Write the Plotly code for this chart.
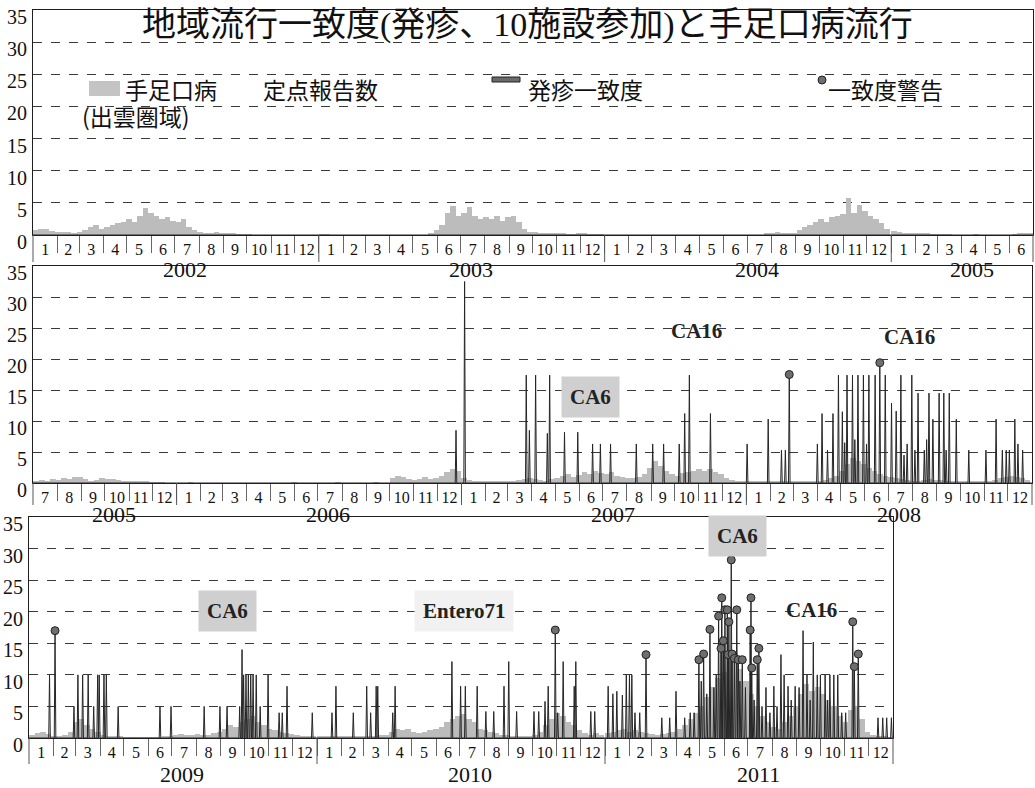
import plotly.graph_objects as go
import pandas as pd

W, H = 1035, 788

# ---------------- data ----------------
# weekly HFMD sentinel reports (Izumo area), 52 weeks per year
hfmd_2002 = [0.8,1.0,0.9,0.7,0.5, 0.4,0.5,0.3,0.4, 0.8,1.2,1.5,1.0, 1.2,1.5,1.8,2.0, 2.5,2.0,3.0,4.2,3.5,
             3.0,2.5,2.8,2.2, 2.0,2.5,1.2,0.8,0.4, 0.3,0.2,0.4,0.3, 0.2,0.3,0.1,0.1, 0.1,0,0,0,0, 0,0,0,0, 0,0,0,0]
hfmd_2003 = [0.1,0.1,0,0,0, 0,0,0,0, 0,0,0,0, 0,0,0,0, 0,0,0,0.3,0.8, 1.5,3.5,4.5,3.0, 3.5,4.3,3.0,2.5,2.8,
             2.5,3.0,2.2,2.8, 3.0,2.0,1.0,0.5, 0.4,0.3,0.2,0.3,0.2, 0.2,0.1,0.1,0.2, 0.2,0.1,0.1,0.1]
hfmd_2004 = [0,0,0,0,0, 0,0,0,0, 0,0,0,0, 0,0,0,0, 0,0,0,0,0, 0,0,0,0, 0,0,0,0.2,0.3,
             0.4,0.2,0.3,0.3, 0.8,1.2,1.5,2.0, 2.5,2.0,2.8,3.0,3.2, 5.8,3.5,4.7,3.8, 3.0,2.5,1.8,1.0]
hfmd_2005 = [0.6,0.4,0.3,0.3,0.2, 0.3,0.2,0.1,0.1, 0.1,0.1,0,0, 0,0,0.1,0, 0,0,0,0,0, 0.1,0.2,0.3,0.2,
             0.3,0.5,0.4,0.6,0.5, 0.8,0.6,0.9,1.0, 0.6,0.4,0.5,0.8, 0.7,0.6,0.5,0.4,0.3, 0.3,0.2,0.2,0.1, 0.1,0.1,0,0]
hfmd_2006 = [0,0,0.1,0,0, 0,0,0,0, 0,0,0,0, 0,0,0,0, 0,0,0,0,0.1, 0,0,0,0, 0,0,0,0.1,0,
             0,0,0,0, 0,0.1,0,0, 0.8,1.2,0.9,0.6,0.5, 0.7,1.0,0.6,0.8, 1.2,1.8,2.2,2.0]
hfmd_2007 = [0.8,0.5,0.3,0.3,0.2, 0.2,0.3,0.2,0.3, 0.4,0.5,0.6,0.8, 0.6,0.5,0.4,0.6, 0.8,1.2,1.5,1.0,1.3,
             1.8,1.5,2.0,1.6, 1.5,1.8,1.2,1.0,0.8, 0.8,1.0,1.5,2.5, 3.6,2.8,2.0,1.5, 1.2,1.6,1.8,2.0,2.2,
             2.0,2.3,1.8,1.5, 0.8,0.5,0.4,0.3]
hfmd_2008 = [0.3,0.2,0.3,0.4,0.3, 0.2,0.3,0.2,0.3, 0.3,0.2,0.3,0.3, 0.3,0.5,0.8,1.2, 2.0,3.0,4.0,3.5,3.0,
             2.5,2.0,1.5,1.2, 1.0,0.8,0.6,0.5,0.4, 0.4,0.5,0.6,0.5, 0.5,0.4,0.3,0.3, 0.3,0.2,0.2,0.2,0.2,
             0.3,0.5,0.8,1.0, 1.2,1.0,0.8,0.5]
hfmd_2009 = [0.5,0.8,1.0,0.6,0.3, 0.3,0.5,1.0,2.5, 3.0,2.0,1.5,1.0, 0.5,0.3,0.2,0.2, 0.1,0.1,0.1,0.1,0.1,
             0.1,0.1,0.2,0.3, 0.5,0.6,0.4,0.5,0.6, 0.4,0.5,0.8,1.0, 1.5,2.0,1.8,2.5, 3.0,3.5,2.5,2.0,1.5,
             1.2,1.0,0.8,0.6, 0.4,0.3,0.2,0.2]
hfmd_2010 = [0.2,0.2,0.3,0.2,0.2, 0.2,0.3,0.2,0.2, 0.3,0.3,0.4,0.5, 1.0,1.4,1.2,1.5, 1.0,0.8,0.9,1.2,1.5,
             1.8,2.5,3.0,3.5, 3.8,3.0,2.5,1.5,1.2, 1.0,0.8,0.5,0.5, 0.3,0.3,0.2,0.3, 0.5,1.0,2.0,3.0,4.0,
             3.5,2.5,2.0,1.2, 0.8,0.5,0.8,0.5]
hfmd_2011 = [0.8,1.0,1.2,1.5,1.0, 1.2,1.0,0.8,0.6, 0.5,0.6,0.8,1.0, 1.5,2.0,3.0,4.0, 5.0,6.5,8.0,9.5,10.5,
             12.5,13.5,11.0,9.0, 7.0,5.0,3.5,2.5,1.8, 1.5,2.5,3.5,5.0, 7.0,8.5,7.5,8.0, 7.0,6.0,5.0,3.5,2.5,
             4.5,5.0,3.0,1.0, 0.5,0.3,0.2,0.1]
hfmd_years = [2002, 2003, 2004, 2005, 2006, 2007, 2008, 2009, 2010, 2011]
hfmd_series = [hfmd_2002, hfmd_2003, hfmd_2004, hfmd_2005, hfmd_2006,
               hfmd_2007, hfmd_2008, hfmd_2009, hfmd_2010, hfmd_2011]

# rash concordance (daily, non-zero days only)
spike_dates = [
    "2006-12-25","2007-01-05","2007-03-25","2007-03-29","2007-04-06","2007-04-21","2007-04-24",
    "2007-05-13","2007-05-30","2007-06-18","2007-06-28","2007-07-11","2007-08-13","2007-09-03",
    "2007-09-17","2007-10-07","2007-10-14","2007-10-20","2007-11-16","2008-01-02","2008-01-29",
    "2008-02-15","2008-02-20","2008-04-01","2008-04-07","2008-04-14","2008-04-21","2008-04-28",
    "2008-05-03","2008-05-06","2008-05-09","2008-05-16","2008-05-19","2008-05-23","2008-05-30",
    "2008-06-03","2008-06-06","2008-06-14","2008-06-27","2008-07-05","2008-07-11","2008-07-17",
    "2008-07-21","2008-07-25","2008-07-31","2008-08-04","2008-08-08","2008-08-16","2008-08-19",
    "2008-08-22","2008-08-27","2008-09-04","2008-09-10","2008-09-13","2008-09-17","2008-09-26",
    "2008-10-12","2008-11-03","2008-11-16","2008-11-24","2008-11-29","2008-12-03","2008-12-10",
    "2008-12-14","2008-12-20",
    "2009-01-27","2009-02-27","2009-03-04","2009-03-10","2009-03-17","2009-03-24","2009-03-29",
    "2009-03-31","2009-04-06","2009-04-09","2009-04-24","2009-06-16","2009-06-30","2009-08-11",
    "2009-08-31","2009-09-09","2009-09-25","2009-09-28","2009-09-30","2009-10-03","2009-10-06",
    "2009-10-09","2009-10-12","2009-10-16","2009-10-21","2009-10-31","2009-11-14","2009-11-18",
    "2009-11-24","2009-12-26","2010-01-20","2010-01-25","2010-02-16","2010-03-05","2010-03-10",
    "2010-03-17","2010-03-19","2010-04-07","2010-04-10","2010-06-21","2010-07-02","2010-07-08",
    "2010-07-23","2010-08-03","2010-08-13","2010-08-26","2010-09-01","2010-09-11","2010-10-03",
    "2010-10-09","2010-10-17","2010-10-21","2010-11-02","2010-11-09","2010-11-23","2010-11-25",
    "2010-12-14","2010-12-19","2011-01-05","2011-01-11","2011-01-16","2011-01-23","2011-01-28",
    "2011-02-01","2011-02-04","2011-02-08","2011-02-14","2011-03-14","2011-03-24","2011-04-01",
    "2011-04-12","2011-04-19","2011-04-24","2011-05-03","2011-05-10","2011-05-19","2011-05-22",
    "2011-06-21","2011-06-28","2011-07-09","2011-07-19","2011-07-24","2011-07-29","2011-08-03",
    "2011-08-07","2011-08-12","2011-08-16","2011-08-21","2011-08-25","2011-08-30","2011-09-04",
    "2011-09-09","2011-09-14","2011-09-18","2011-09-22","2011-09-27","2011-10-01","2011-10-07",
    "2011-10-10","2011-10-13","2011-10-18","2011-10-23","2011-10-28","2011-11-02","2011-12-13",
    "2011-12-19","2011-12-24","2011-12-30"]
spike_values = [
    8.5,32.5,17.4,8.5,17.4,8.0,17.4,
    8.2,8.2,6.3,6.3,6.3,6.3,6.3,
    6.3,6.3,11.2,17.4,11.2,6.3,10.3,
    5.3,5.3,6.3,11.2,5.3,11.2,17.4,
    11.5,6.5,17.4,17.4,7.0,17.4,17.4,
    6.3,17.4,17.4,17.4,12.9,11.6,17.4,
    4.5,6.3,17.4,5.3,14.5,5.3,7.0,
    14.5,10.3,14.5,14.5,5.3,14.5,10.3,
    5.3,5.3,10.3,5.3,5.3,5.3,10.3,
    6.3,5.3,
    10,5,10,10,10,5,10,
    10,10,10,5,5,5,5,
    5,5,5,14,10,10,10,
    10,10,10,5,10,4,4,
    8.2,4,4,8.2,4,8.2,4,
    8.2,8.2,4,8.2,12.1,8.2,8.2,
    8.2,4.2,4.2,8.2,12.1,4.2,4.2,
    4.2,5.8,8.2,4,12.1,8.2,12.1,
    4.2,4.2,8.2,7.0,7.4,6.8,10,
    10,10,4,4,3.2,3.2,7.4,
    3.2,4,4,9,7,8,10,
    9,8,6,5,8,4,8.2,
    5,13.2,10,8.2,6,8.2,8,
    17,10,6,15.2,10,10,10,
    6,10,10,10,4,4,3.2,
    3.2,3.2,3.2]

# concordance warnings
warn_dates = [
    "2008-02-25","2008-06-20","2009-02-03","2010-10-30","2011-02-22","2011-04-30","2011-05-06",
    "2011-05-14","2011-05-25","2011-05-28","2011-05-29","2011-05-31","2011-06-02","2011-06-05",
    "2011-06-06","2011-06-07","2011-06-10","2011-06-11","2011-06-14","2011-06-17","2011-06-19",
    "2011-06-24","2011-07-04","2011-07-05","2011-07-06","2011-07-13","2011-07-15","2011-11-11",
    "2011-11-13","2011-11-18"]
warn_values = [
    17.5,19.4,17.0,17.1,13.2,12.4,13.3,
    17.2,19.3,14.2,22.2,15.4,20.3,20.3,
    13.2,18.4,28.2,13.3,12.6,20.3,12.4,
    12.4,17.1,22.2,11.1,12.4,14.2,18.4,
    11.3,13.3]

panel_ranges = [("2002-01-01", "2005-07-01"),
                ("2005-07-01", "2009-01-01"),
                ("2009-01-01", "2012-01-01")]

title_text = "地域流行一致度(発疹、10施設参加)と手足口病流行"
legend_labels = ["手足口病　　定点報告数", "(出雲圏域)", "発疹一致度", "一致度警告"]
virus_labels = ["CA16", "CA16", "CA6", "CA6", "Entero71", "CA6", "CA16"]

# ---------------- layout geometry (pixels) ----------------
panels_px = [  # x_left, x_right, y_top(35), y_bottom(0), year label y, extension bottom
    (33, 1033, 10, 235, 269, 262),
    (33, 1032, 266, 483, 514, 505),
    (29, 893, 517, 738, 774, 764),
]

def px(x):
    return x / W

def py(y):
    return 1 - y / H

SERIF = "Liberation Serif, Noto Sans CJK JP"
CJK = "Noto Sans CJK JP, Liberation Serif"

# ---------------- build series ----------------
bar_x, bar_y = [], []
for yr, vals in zip(hfmd_years, hfmd_series):
    base = pd.Timestamp(f"{yr}-01-01")
    for w, v in enumerate(vals):
        bar_x.append(base + pd.Timedelta(days=7 * w + 3.5))
        bar_y.append(v)

events = sorted(list(zip(pd.to_datetime(spike_dates), spike_values)) +
                list(zip(pd.to_datetime(warn_dates), warn_values)))
one = pd.Timedelta(days=1)
line_x, line_y = [pd.Timestamp("2002-01-01")], [0]
for d, v in events:
    line_x += [d - one, d, d + one]
    line_y += [0, v, 0]
line_x.append(pd.Timestamp("2012-01-01"))
line_y.append(0)

fig = go.Figure()
shapes, annotations = [], []

for i, ((r0, r1), (xl, xr, yt, yb, yy, yext)) in enumerate(zip(panel_ranges, panels_px), start=1):
    xa = "x" if i == 1 else f"x{i}"
    ya = "y" if i == 1 else f"y{i}"
    fig.add_trace(go.Bar(x=bar_x, y=bar_y, xaxis=xa, yaxis=ya, width=7 * 86400000,
                         marker=dict(color="#bcbcbc", line=dict(width=0)), showlegend=False,
                         hoverinfo="skip"))
    fig.add_trace(go.Scatter(x=line_x, y=line_y, xaxis=xa, yaxis=ya, mode="lines",
                             line=dict(color="#262626", width=1), showlegend=False))
    fig.add_trace(go.Scatter(x=pd.to_datetime(warn_dates), y=warn_values, xaxis=xa, yaxis=ya,
                             mode="markers",
                             marker=dict(size=8, color="#6e6e6e", line=dict(color="#222", width=1)),
                             showlegend=False))

    months = pd.date_range(r0, r1, freq="MS")
    starts = list(months[:-1])
    mids = [a + (b - a) / 2 for a, b in zip(months[:-1], months[1:])]
    key_x = "xaxis" if i == 1 else f"xaxis{i}"
    key_y = "yaxis" if i == 1 else f"yaxis{i}"
    fig.layout[key_x] = dict(
        domain=[px(xl), px(xr)], anchor=ya, type="date", range=[r0, r1], automargin=False,
        tickmode="array", tickvals=mids, ticktext=[str(m.month) for m in starts],
        ticks="", showgrid=False, zeroline=False,
        showline=True, linecolor="#1e1e1e", linewidth=1.2, mirror=True,
        tickfont=dict(family=SERIF, size=16, color="#111"),
        minor=dict(tickmode="array", tickvals=starts[1:], ticks="outside", ticklen=17,
                   tickcolor="#666", tickwidth=1, showgrid=False),
    )
    fig.layout[key_y] = dict(
        domain=[py(yb), py(yt)], anchor=xa, range=[0, 35], automargin=False,
        tickmode="array", tickvals=[0, 5, 10, 15, 20, 25, 30, 35],
        showgrid=True, griddash="dash", gridcolor="#3a3a3a", gridwidth=1,
        zeroline=False, showline=True, linecolor="#1e1e1e", linewidth=1.2, mirror=True,
        ticks="", ticklabelshift=7, ticklabelstandoff=1,
        tickfont=dict(family=SERIF, size=20, color="#111"),
    )

    # year labels and year separators
    rs, re_ = pd.Timestamp(r0), pd.Timestamp(r1)
    for yr in range(rs.year, re_.year + 1):
        a = max(pd.Timestamp(f"{yr}-01-01"), rs)
        b = min(pd.Timestamp(f"{yr + 1}-01-01"), re_)
        if b <= a:
            continue
        annotations.append(dict(x=a + (b - a) / 2 + pd.Timedelta(days=12), y=py(yy), xref=xa, yref="paper",
                                text=str(yr), showarrow=False,
                                font=dict(family=SERIF, size=22, color="#111"),
                                xanchor="center", yanchor="middle"))
        if a > rs:
            shapes.append(dict(type="line", xref=xa, yref="paper", x0=a, x1=a,
                               y0=py(yb), y1=py(yext), line=dict(color="#555", width=1)))
    for xe in (xl, xr):
        shapes.append(dict(type="line", xref="paper", yref="paper", x0=px(xe), x1=px(xe),
                           y0=py(yb), y1=py(yext), line=dict(color="#555", width=1)))

# title
annotations.append(dict(x=px(527), y=py(25), xref="paper", yref="paper", text=title_text,
                        showarrow=False, font=dict(family=SERIF, size=34, color="#111"),
                        xanchor="center", yanchor="middle"))

# legend (drawn by hand to mimic the original layout)
shapes.append(dict(type="rect", xref="paper", yref="paper", x0=px(89), x1=px(120),
                   y0=py(96), y1=py(81), fillcolor="#c4c4c4", line=dict(width=0)))
shapes.append(dict(type="rect", xref="paper", yref="paper", x0=px(492), x1=px(520),
                   y0=py(82), y1=py(77), fillcolor="#6a6a6a", line=dict(color="#222", width=1)))
shapes.append(dict(type="circle", xref="paper", yref="paper", x0=px(818), x1=px(826),
                   y0=py(84), y1=py(76), fillcolor="#6e6e6e", line=dict(color="#222", width=1)))
leg_pos = [(123, 89), (80, 116), (526, 89), (826, 89)]
for txt, (lx, ly) in zip(legend_labels, leg_pos):
    annotations.append(dict(x=px(lx), y=py(ly), xref="paper", yref="paper", text=txt,
                            showarrow=False, font=dict(family=CJK, size=23, color="#111"),
                            xanchor="left", yanchor="middle"))

# virus type labels
virus_pos = [(696, 331, None), (909, 337, None), (590, 397, "#cfcfcf"),
             (227, 611, "#cfcfcf"), (464, 611, "#f1f1f1"), (737, 536, "#cfcfcf"), (811, 610, None)]
for txt, (vx, vy, bg) in zip(virus_labels, virus_pos):
    ann = dict(x=px(vx), y=py(vy), xref="paper", yref="paper", text=f"<b>{txt}</b>",
               showarrow=False, font=dict(family=SERIF, size=21, color="#222"),
               xanchor="center", yanchor="middle")
    if bg:
        ann.update(bgcolor=bg, borderpad=8)
    annotations.append(ann)

fig.update_layout(width=W, height=H, margin=dict(l=0, r=0, t=0, b=0, autoexpand=False),
                  autosize=False,
                  paper_bgcolor="white", plot_bgcolor="white", bargap=0, barmode="overlay",
                  showlegend=False, shapes=shapes, annotations=annotations)

fig.write_html("out.html", config={"displayModeBar": False},
               post_script="document.body.style.margin='0px';document.body.style.overflow='hidden';")
